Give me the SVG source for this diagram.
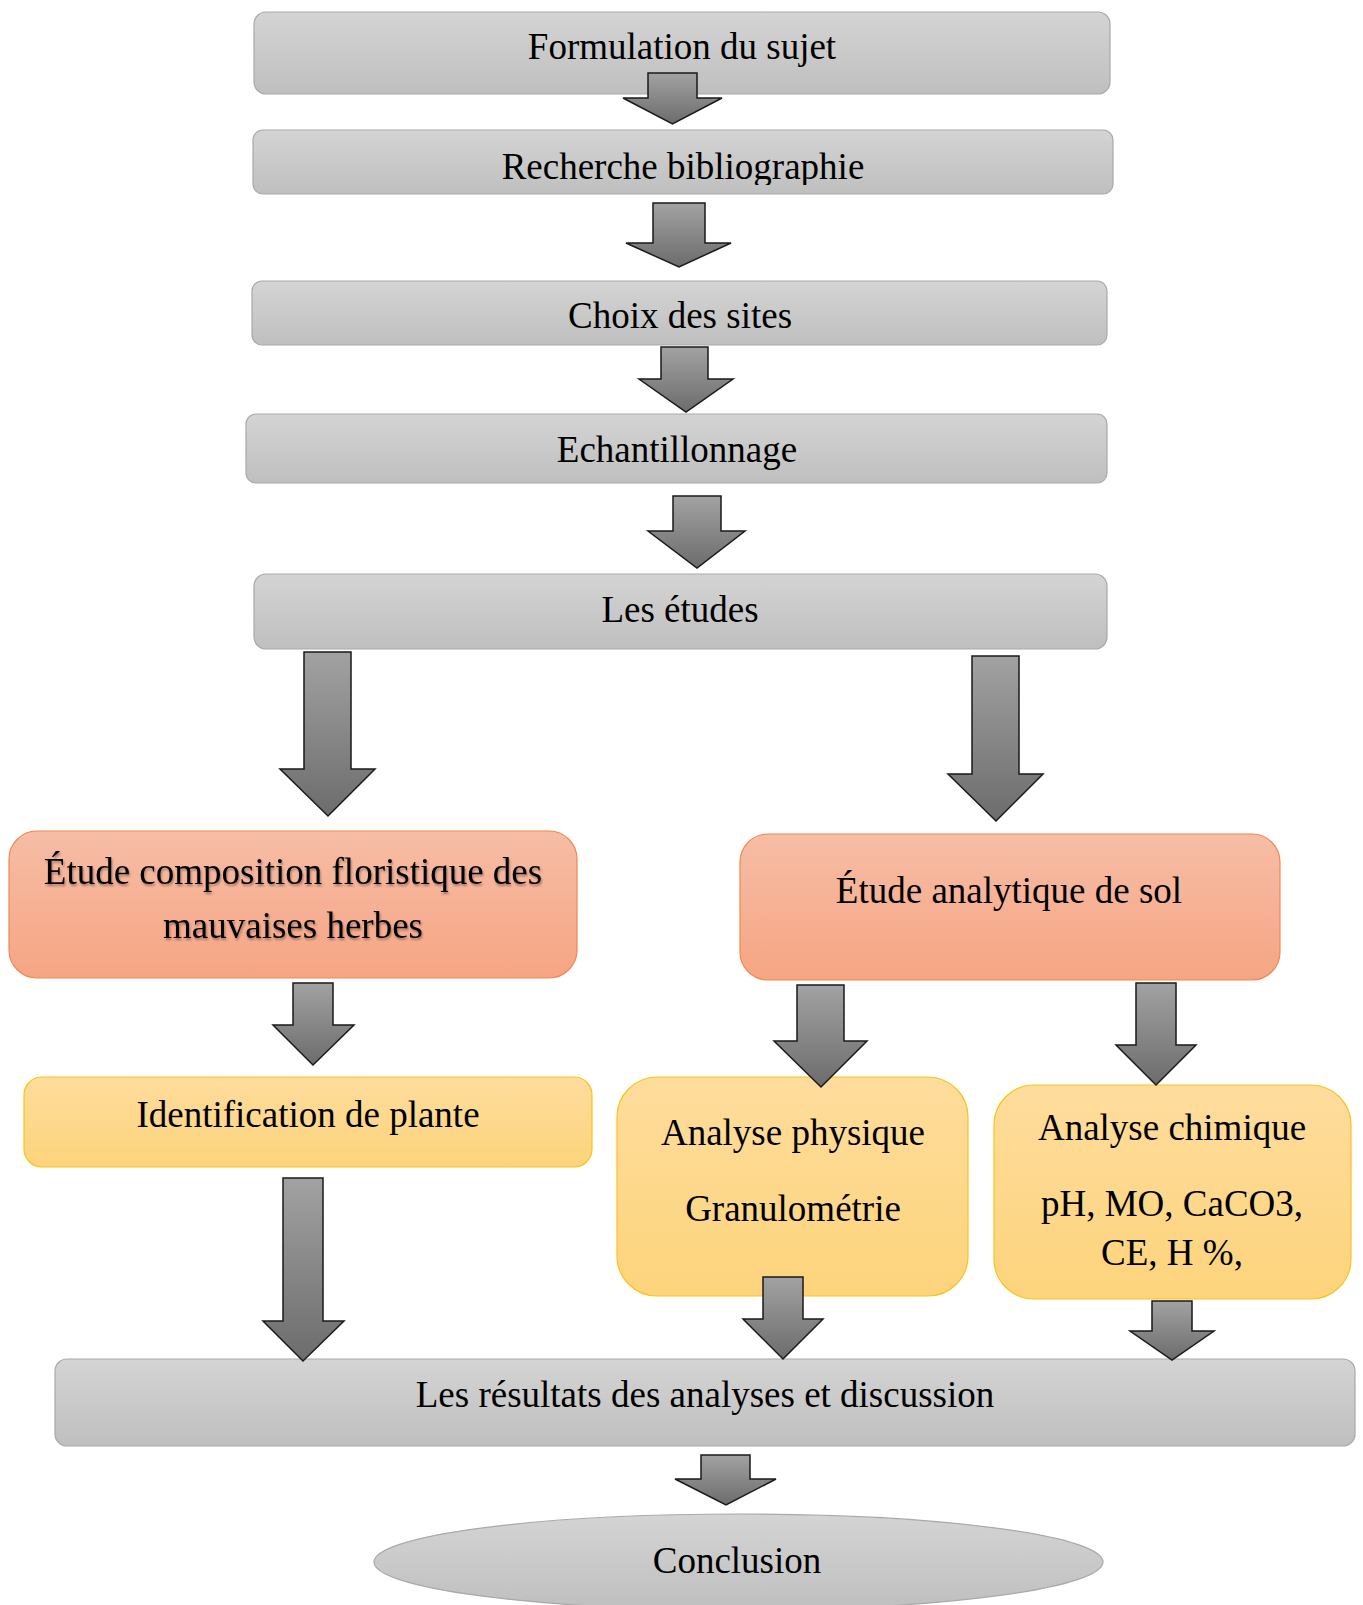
<svg xmlns="http://www.w3.org/2000/svg" width="1363" height="1605" viewBox="0 0 1363 1605">
<defs>
<linearGradient id="gGray" x1="0" y1="0" x2="0" y2="1"><stop offset="0" stop-color="#d4d4d4"/><stop offset="1" stop-color="#bfbfbf"/></linearGradient>
<linearGradient id="gOrange" x1="0" y1="0" x2="0" y2="1"><stop offset="0" stop-color="#f6bda6"/><stop offset="1" stop-color="#f6a583"/></linearGradient>
<linearGradient id="gYellow" x1="0" y1="0" x2="0" y2="1"><stop offset="0" stop-color="#fedc9c"/><stop offset="1" stop-color="#fdd47c"/></linearGradient>
<linearGradient id="gArrow" x1="0" y1="0" x2="0" y2="1"><stop offset="0" stop-color="#a2a2a2"/><stop offset="1" stop-color="#6c6c6c"/></linearGradient>
<filter id="tshadow" x="-5%" y="-20%" width="110%" height="140%"><feDropShadow dx="1" dy="2" stdDeviation="1.2" flood-color="#000" flood-opacity="0.35"/></filter>
<clipPath id="clipRech"><rect x="253" y="130" width="860" height="55"/></clipPath>
</defs>
<style>
.gray{fill:url(#gGray);stroke:#a9a9a9;stroke-width:1.2}
.orange{fill:url(#gOrange);stroke:#f0884e;stroke-width:1.2}
.yellow{fill:url(#gYellow);stroke:#f8c316;stroke-width:1.2}
.arrow{fill:url(#gArrow);stroke:#1a1a1a;stroke-width:1.5;stroke-linejoin:miter}
text{font-family:"Liberation Serif","Times New Roman",serif;font-size:37px;fill:#000;text-anchor:middle}
.sh{filter:url(#tshadow)}
</style>
<rect width="1363" height="1605" fill="#fff"/>
<g id="n-formulation"><rect class="gray" x="254" y="12" width="856" height="82" rx="12"/><text x="682" y="59">Formulation du sujet</text></g>
<g id="n-recherche"><rect class="gray" x="253" y="130" width="860" height="64" rx="10"/><text x="683" y="179" clip-path="url(#clipRech)">Recherche bibliographie</text></g>
<g id="n-choix"><rect class="gray" x="252" y="281" width="855" height="64" rx="10"/><text x="680" y="328">Choix des sites</text></g>
<g id="n-echantillonnage"><rect class="gray" x="246" y="414" width="861" height="69" rx="10"/><text x="677" y="462">Echantillonnage</text></g>
<g id="n-etudes"><rect class="gray" x="254" y="574" width="853" height="75" rx="12"/><text x="680" y="622">Les études</text></g>
<g id="n-floristique"><rect class="orange" x="9" y="831" width="568" height="147" rx="28"/><text class="sh" x="293" y="884">Étude composition floristique des</text><text class="sh" x="293" y="938">mauvaises herbes</text></g>
<g id="n-sol"><rect class="orange" x="740" y="834" width="540" height="146" rx="28"/><text x="1009" y="903">Étude analytique de sol</text></g>
<g id="n-identification"><rect class="yellow" x="24" y="1077" width="568" height="90" rx="18"/><text x="308" y="1127">Identification de plante</text></g>
<g id="n-physique"><rect class="yellow" x="617" y="1077" width="351" height="219" rx="40"/><text x="793" y="1145">Analyse physique</text><text x="793" y="1221">Granulométrie</text></g>
<g id="n-chimique"><rect class="yellow" x="994" y="1085" width="357" height="214" rx="40"/><text x="1172" y="1140">Analyse chimique</text><text x="1172" y="1216">pH, MO, CaCO3,</text><text x="1172" y="1265">CE, H %,</text></g>
<g id="n-resultats"><rect class="gray" x="55" y="1359" width="1300" height="87" rx="12"/><text x="705" y="1407">Les résultats des analyses et discussion</text></g>
<g id="n-conclusion"><ellipse class="gray" cx="738.5" cy="1562" rx="364.5" ry="48"/><text x="737" y="1573">Conclusion</text></g>
<g id="connectors">
<polygon class="arrow" points="648,73 697,73 697,98 722,98 672.5,124 623,98 648,98"/>
<polygon class="arrow" points="653,203 705,203 705,243 731,243 679,267 626,243 653,243"/>
<polygon class="arrow" points="661,347 708,347 708,379 733,379 686,412 639,379 661,379"/>
<polygon class="arrow" points="673,496 721,496 721,531 745,531 697,568 648,531 673,531"/>
<polygon class="arrow" points="304,652 351,652 351,769 375,769 328,816 280,769 304,769"/>
<polygon class="arrow" points="972,656 1019,656 1019,774 1043,774 996,821 948,774 972,774"/>
<polygon class="arrow" points="293,983 333,983 333,1025 354,1025 313,1065 273,1025 293,1025"/>
<polygon class="arrow" points="797,985 844,985 844,1041 867,1041 821,1087 774,1041 797,1041"/>
<polygon class="arrow" points="1136,983 1176,983 1176,1045 1196,1045 1156,1085 1116,1045 1136,1045"/>
<polygon class="arrow" points="283,1178 323,1178 323,1321 344,1321 303,1361 263,1321 283,1321"/>
<polygon class="arrow" points="763,1277 803,1277 803,1319 823,1319 783,1359 743,1319 763,1319"/>
<polygon class="arrow" points="1152,1301 1192,1301 1192,1331 1214,1331 1172,1360 1130,1331 1152,1331"/>
<polygon class="arrow" points="701,1455 750,1455 750,1479 776,1479 726,1505 675,1479 701,1479"/>
</g>
</svg>
